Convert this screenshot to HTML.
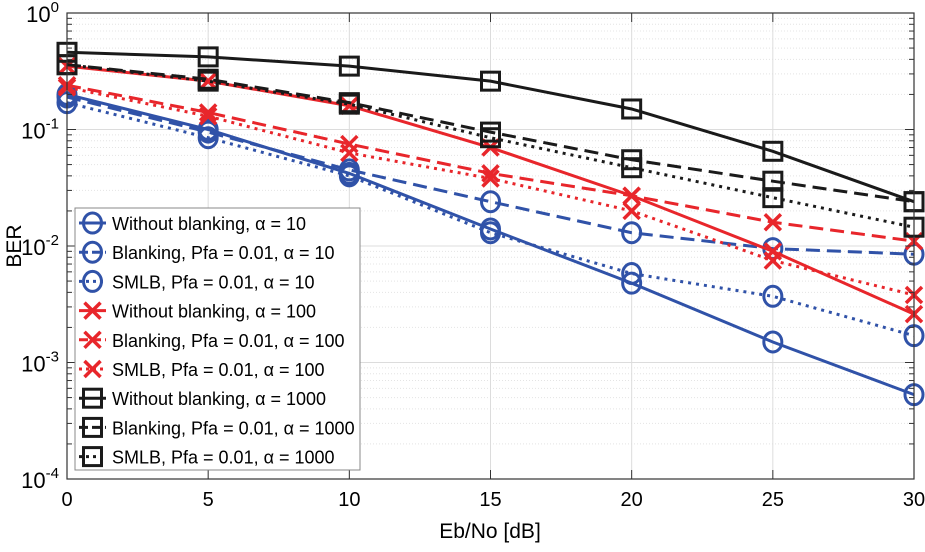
<!DOCTYPE html>
<html><head><meta charset="utf-8"><style>
body{margin:0;background:#fff;}
svg{display:block;font-family:"Liberation Sans",sans-serif;}
</style></head><body>
<svg id="chart" width="925" height="552" viewBox="0 0 925 552" xmlns="http://www.w3.org/2000/svg">
<g id="grid"></g>
<g id="series"></g>
<g id="axes"></g>
<g id="legend"></g>
<text x="490" y="538" font-size="21" text-anchor="middle">Eb/No [dB]</text>
<text transform="translate(21,246) rotate(-90)" font-size="21" text-anchor="middle">BER</text>
</svg>
<script>
const snr = [0, 5, 10, 15, 20, 25, 30];
const xTicks = [0, 5, 10, 15, 20, 25, 30];
const yExps = [0, -1, -2, -3, -4];
const blueSolid = [0.2, 0.1, 0.042, 0.014, 0.0048, 0.0015, 0.00053];
const blueDash = [0.19, 0.095, 0.045, 0.024, 0.013, 0.0095, 0.0085];
const blueDot = [0.17, 0.085, 0.04, 0.013, 0.0058, 0.0037, 0.0017];
const redSolid = [0.35, 0.26, 0.16, 0.07, 0.027, 0.009, 0.0026];
const redDash = [0.24, 0.14, 0.075, 0.042, 0.027, 0.016, 0.011];
const redDot = [0.23, 0.13, 0.063, 0.038, 0.02, 0.0075, 0.0038];
const blackSolid = [0.46, 0.42, 0.35, 0.26, 0.15, 0.065, 0.024];
const blackDash = [0.36, 0.27, 0.17, 0.095, 0.055, 0.036, 0.024];
const blackDot = [0.36, 0.26, 0.165, 0.085, 0.047, 0.026, 0.0145];
const labels = ["Without blanking, α = 10","Blanking, Pfa = 0.01, α = 10","SMLB, Pfa = 0.01, α = 10",
"Without blanking, α = 100","Blanking, Pfa = 0.01, α = 100","SMLB, Pfa = 0.01, α = 100",
"Without blanking, α = 1000","Blanking, Pfa = 0.01, α = 1000","SMLB, Pfa = 0.01, α = 1000"];

const NS="http://www.w3.org/2000/svg";
const L=67,R=914,T=13,B=479;
const xs=v=>L+(v-0)/30*(R-L);
const ys=v=>T+(-Math.log10(v))/4*(B-T);
function mk(tag,attrs,parent){const e=document.createElementNS(NS,tag);for(const k in attrs)e.setAttribute(k,attrs[k]);parent.appendChild(e);return e;}
const grid=document.getElementById('grid'),axes=document.getElementById('axes'),ser=document.getElementById('series'),leg=document.getElementById('legend');
mk('rect',{x:L,y:T,width:R-L,height:B-T,fill:'#fff'},grid);
for(let d=0;d<4;d++){for(let m=2;m<=9;m++){const y=ys(m*Math.pow(10,-(d+1)));
const g=mk('line',{x1:L,x2:R,y1:y,y2:y,stroke:'#e4e4e4','stroke-width':1,'stroke-dasharray':'1 2'},grid);


mk('line',{x1:L,x2:L+5,y1:y,y2:y,stroke:'#333','stroke-width':1},axes);
mk('line',{x1:R,x2:R-5,y1:y,y2:y,stroke:'#333','stroke-width':1},axes);}}
yExps.forEach(e=>{const y=ys(Math.pow(10,e));
const g=mk('line',{x1:L,x2:R,y1:y,y2:y,stroke:'#dcdcdc','stroke-width':1},grid);


mk('line',{x1:L,x2:L+9,y1:y,y2:y,stroke:'#333'},axes);
mk('line',{x1:R,x2:R-9,y1:y,y2:y,stroke:'#333'},axes);
const t=mk('text',{x:L-8,y:y+9,'font-size':22,'text-anchor':'end'},axes);


t.innerHTML='10<tspan dy="-10" font-size="15">'+e+'</tspan>';});
xTicks.forEach(v=>{const x=xs(v);
const g=mk('line',{x1:x,x2:x,y1:T,y2:B,stroke:'#dcdcdc'},grid);


mk('line',{x1:x,x2:x,y1:B,y2:B-9,stroke:'#333'},axes);
mk('line',{x1:x,x2:x,y1:T,y2:T+9,stroke:'#333'},axes);
const t=mk('text',{x:x,y:B+27,'font-size':20,'text-anchor':'middle'},axes);


t.textContent=v;});
mk('rect',{x:L,y:T,width:R-L,height:B-T,fill:'none',stroke:'#333','stroke-width':1.2},axes);
const BLUE='#3052a8',RED='#e8262b',BLK='#1a1a1a';
const dashes={solid:'',dash:'14 7',dot:'3 5'};
const defs=[[blueSolid,BLUE,'solid','o'],[blueDash,BLUE,'dash','o'],[blueDot,BLUE,'dot','o'],
[redSolid,RED,'solid','x'],[redDash,RED,'dash','x'],[redDot,RED,'dot','x'],
[blackSolid,BLK,'solid','s'],[blackDash,BLK,'dash','s'],[blackDot,BLK,'dot','s']];
function marker(type,x,y,c,p){
 if(type==='o')mk('ellipse',{cx:x,cy:y,rx:9,ry:10,fill:'none',stroke:c,'stroke-width':3},p);
 else if(type==='x'){mk('path',{d:`M${x-8},${y-8}L${x+8},${y+8}M${x-8},${y+8}L${x+8},${y-8}`,stroke:c,'stroke-width':3.5},p);}
 else mk('rect',{x:x-9,y:y-9,width:18,height:18,fill:'none',stroke:c,'stroke-width':3},p);}
defs.forEach((d,i)=>{const [vals,c,st,m]=d;
 const g=mk('g',{},ser);
 
 
 const pts=vals.map((v,j)=>xs(snr[j])+','+ys(v)).join(' ');
 const pl=mk('polyline',{points:pts,fill:'none',stroke:c,'stroke-width':3,'stroke-dasharray':dashes[st]},g);
 
 
 vals.forEach((v,j)=>marker(m,xs(snr[j]),ys(v),c,g));
});
const lb=mk('rect',{x:75,y:208,width:285,height:262,fill:'#fff',stroke:'#888','stroke-width':1},leg);


defs.forEach((d,i)=>{const [,c,st,m]=d;const y=223+i*29.2;
 const g=mk('g',{},leg);
 
 
 mk('line',{x1:79,x2:106,y1:y,y2:y,stroke:c,'stroke-width':3,'stroke-dasharray':st==='dash'?'9 4':st==='dot'?'3 4':''},g);
 marker(m,92.5,y,c,g);
 const t=mk('text',{x:112,y:y+7,'font-size':18},g);
 t.textContent=labels[i];});
</script>
</body></html>
